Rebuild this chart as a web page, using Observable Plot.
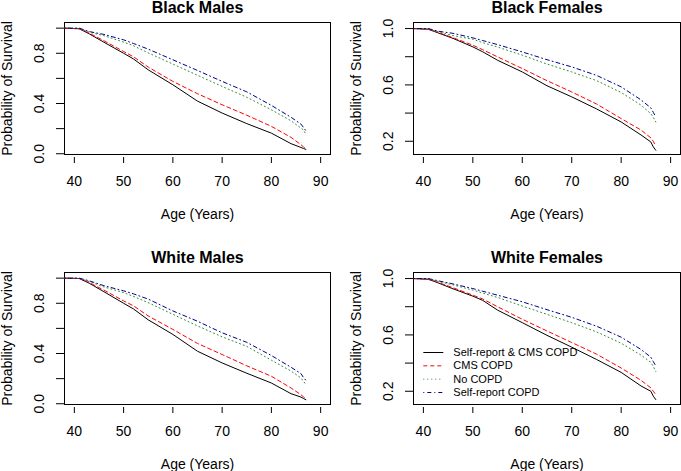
<!DOCTYPE html>
<html><head><meta charset="utf-8">
<script src="https://cdn.jsdelivr.net/npm/d3@7"></script>
<script src="https://cdn.jsdelivr.net/npm/@observablehq/plot@0.6"></script>
<style>
body{margin:0;background:#fff;}
#chart{position:relative;width:681px;height:471px;font-family:"Liberation Sans",Arial,sans-serif;}
#chart svg{position:absolute;overflow:visible;}
</style></head><body><div id="chart"></div>
<script>
// ---- data ----
const ages = [38, 41, 43, 46, 50, 52, 55, 60, 65, 70, 75, 80, 84, 86, 86.5, 87];
const seriesNames = ["Self-report & CMS COPD", "CMS COPD", "No COPD", "Self-report COPD"];
const panelTitles = ["Black Males", "Black Females", "White Males", "White Females"];
const xTicks = [40, 50, 60, 70, 80, 90];
const maleYTicks = [0, 0.2, 0.4, 0.6, 0.8, 1.0];
const maleYLabels = [0, 0.4, 0.8];
const femaleYTicks = [0.2, 0.4, 0.6, 0.8, 1.0];
const femaleYLabels = [0.2, 0.6, 1.0];

// Black Males
const bmBoth = [1.0, 0.995, 0.955, 0.888, 0.80, 0.755, 0.668, 0.549, 0.419, 0.324, 0.24, 0.164, 0.08, 0.05, 0.042, 0.035];
const bmCms  = [1.0, 0.995, 0.96, 0.90, 0.814, 0.772, 0.69, 0.576, 0.478, 0.39, 0.307, 0.218, 0.13, 0.072, 0.055, 0.04];
const bmNone = [1.0, 0.998, 0.968, 0.94, 0.889, 0.86, 0.803, 0.714, 0.625, 0.536, 0.45, 0.35, 0.262, 0.204, 0.19, 0.156];
const bmSelf = [1.0, 1.0, 0.973, 0.95, 0.907, 0.878, 0.833, 0.748, 0.663, 0.576, 0.493, 0.385, 0.29, 0.236, 0.21, 0.183];
// Black Females
const bfBoth = [1.0, 0.995, 0.969, 0.93, 0.87, 0.835, 0.775, 0.692, 0.594, 0.515, 0.43, 0.337, 0.245, 0.195, 0.16, 0.136];
const bfCms  = [1.0, 0.995, 0.972, 0.935, 0.882, 0.85, 0.799, 0.716, 0.63, 0.55, 0.465, 0.361, 0.28, 0.224, 0.2, 0.165];
const bfNone = [1.0, 0.998, 0.976, 0.95, 0.924, 0.90, 0.869, 0.811, 0.748, 0.692, 0.631, 0.546, 0.457, 0.396, 0.37, 0.337];
const bfSelf = [1.0, 1.0, 0.981, 0.966, 0.934, 0.915, 0.886, 0.834, 0.779, 0.728, 0.668, 0.586, 0.494, 0.437, 0.405, 0.373];
// White Males
const wmBoth = [1.0, 0.997, 0.96, 0.892, 0.80, 0.755, 0.668, 0.552, 0.418, 0.325, 0.243, 0.165, 0.08, 0.053, 0.042, 0.032];
const wmCms  = [1.0, 0.997, 0.965, 0.905, 0.819, 0.78, 0.699, 0.592, 0.48, 0.392, 0.302, 0.219, 0.125, 0.072, 0.055, 0.04];
const wmNone = [1.0, 0.998, 0.973, 0.93, 0.885, 0.855, 0.805, 0.712, 0.62, 0.533, 0.457, 0.347, 0.26, 0.205, 0.18, 0.152];
const wmSelf = [1.0, 1.0, 0.979, 0.94, 0.899, 0.875, 0.833, 0.739, 0.657, 0.565, 0.489, 0.384, 0.29, 0.24, 0.21, 0.187];
// White Females
const wfBoth = [1.0, 0.995, 0.969, 0.927, 0.875, 0.845, 0.776, 0.687, 0.597, 0.513, 0.426, 0.334, 0.238, 0.2, 0.165, 0.141];
const wfCms  = [1.0, 0.995, 0.972, 0.935, 0.882, 0.855, 0.8, 0.711, 0.628, 0.546, 0.464, 0.365, 0.278, 0.224, 0.2, 0.176];
const wfNone = [1.0, 0.998, 0.979, 0.955, 0.918, 0.897, 0.866, 0.805, 0.746, 0.687, 0.622, 0.541, 0.457, 0.405, 0.375, 0.341];
const wfSelf = [1.0, 1.0, 0.984, 0.962, 0.929, 0.91, 0.882, 0.835, 0.779, 0.725, 0.662, 0.584, 0.497, 0.442, 0.41, 0.381];

// ---- styles ----
const colors = ["#000000", "#FF0000", "#2E8B2E", "#00008B"];
const dashes = [null, "4,3", "1,3", "1,3,4,3"];
const FONT = "'Liberation Sans', Arial, sans-serif";

function panel(title, values, yDomain, yTicks, yLabels, pos) {
  const rows = [];
  values.forEach((arr, k) => arr.forEach((v, i) => rows.push({age: ages[i], surv: v, series: seriesNames[k]})));
  const lines = seriesNames.map((s, k) =>
    Plot.line(rows.filter(d => d.series === s), {x: "age", y: "surv", stroke: colors[k], strokeWidth: 1, strokeDasharray: dashes[k]})
  );
  const svg = Plot.plot({
    width: pos.w, height: pos.h,
    marginLeft: pos.ml, marginRight: pos.mr, marginTop: pos.mt, marginBottom: pos.mb,
    x: {domain: [38, 92]},
    y: {domain: yDomain},
    style: {fontFamily: FONT, background: "transparent", color: "black", overflow: "visible"},
    marks: [
      Plot.frame({stroke: "black"}),
      Plot.axisY(yTicks, {tickSize: 8, tickFormat: () => "", label: null}),
      Plot.axisX(xTicks, {tickSize: 6, dy: 3, tickFormat: () => "", label: null}),
      Plot.text(yLabels, {y: d => d, frameAnchor: "left", dx: -24.7, rotate: -90, textAnchor: "middle", text: d => d.toFixed(1), fontSize: 14, lineAnchor: "middle"}),
      Plot.text(xTicks, {x: d => d, frameAnchor: "bottom", dy: 31, lineAnchor: "bottom", textAnchor: "middle", text: d => String(d), fontSize: 14}),
      Plot.text([title], {frameAnchor: "top", dy: -9.5, lineAnchor: "bottom", textAnchor: "middle", text: d => d, fontSize: 16, fontWeight: "bold"}),
      Plot.text(["Age (Years)"], {frameAnchor: "bottom", dy: 64, lineAnchor: "bottom", textAnchor: "middle", text: d => d, fontSize: 14}),
      Plot.text(["Probability of Survival"], {frameAnchor: "left", dx: -57, rotate: -90, textAnchor: "middle", lineAnchor: "middle", text: d => d, fontSize: 14}),
      ...lines
    ]
  });
  svg.style.left = pos.left + "px";
  svg.style.top = pos.top + "px";
  document.getElementById("chart").appendChild(svg);
}

const leftCol = {left: 0, w: 340, ml: 64, mr: 10};
const rightCol = {left: 340, w: 341, ml: 73, mr: 1};
const topRow = {top: 0, h: 235, mt: 22, mb: 81};
const botRow = {top: 235, h: 236, mt: 37, mb: 67};
const maleDomain = [-0.006, 1.045];
const femaleDomain = [0.106, 1.043];

panel(panelTitles[0], [bmBoth, bmCms, bmNone, bmSelf], maleDomain, maleYTicks, maleYLabels, {...leftCol, ...topRow});
panel(panelTitles[1], [bfBoth, bfCms, bfNone, bfSelf], femaleDomain, femaleYTicks, femaleYLabels, {...rightCol, ...topRow});
panel(panelTitles[2], [wmBoth, wmCms, wmNone, wmSelf], maleDomain, maleYTicks, maleYLabels, {...leftCol, ...botRow});
panel(panelTitles[3], [wfBoth, wfCms, wfNone, wfSelf], femaleDomain, femaleYTicks, femaleYLabels, {...rightCol, ...botRow});

// ---- legend (inside White Females panel) ----
const leg = d3.select("#chart").append("svg")
  .attr("width", 681).attr("height", 471)
  .style("left", "0px").style("top", "0px");
const g = leg.selectAll("g").data(seriesNames).join("g")
  .attr("transform", (d, i) => `translate(423.3, ${352 + i * 13.33})`);
g.append("line").attr("x1", 0).attr("x2", 20).attr("y1", 0.5).attr("y2", 0.5)
  .attr("stroke", (d, i) => colors[i]).attr("stroke-width", 1)
  .attr("stroke-dasharray", (d, i) => dashes[i]);
g.append("text").attr("x", 30).attr("y", 0).attr("dy", "0.35em")
  .attr("font-family", FONT).attr("font-size", 11).attr("fill", "black").text(d => d);
</script>
</body></html>
